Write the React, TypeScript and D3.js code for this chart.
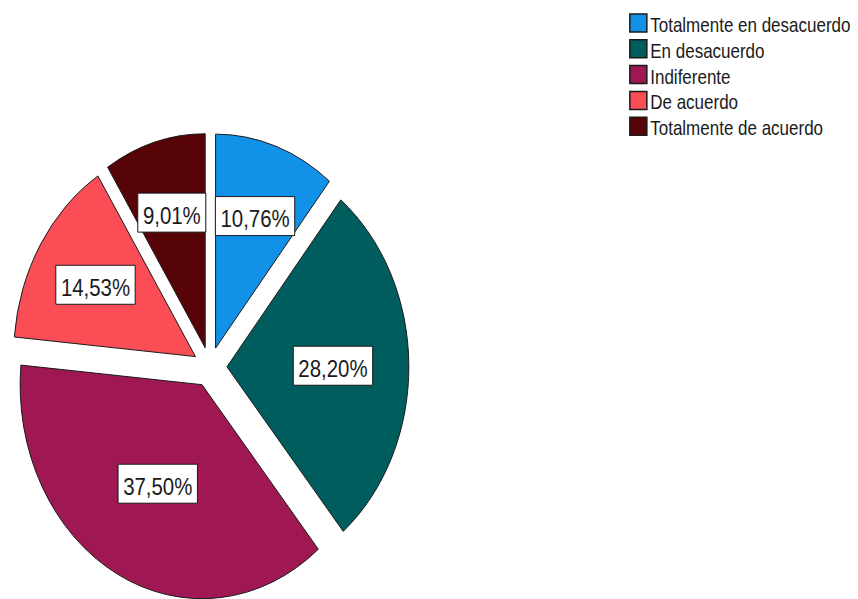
import React, { useEffect, useRef } from "react";
import * as d3 from "d3";

const categories = [
  "Totalmente en desacuerdo",
  "En desacuerdo",
  "Indiferente",
  "De acuerdo",
  "Totalmente de acuerdo",
];
const values = [10.76, 28.2, 37.5, 14.53, 9.01];
const colors = ["#1192e8", "#005d5d", "#9f1853", "#fa4d56", "#570408"];

const W = 858;
const H = 599;
const SX = 0.85;
const CX = 247;
const CY = 367;
const R = 214;
const EXPLODE = 20;
const FONT = "'Liberation Sans', Arial, sans-serif";

export default function App() {
  const ref = useRef<SVGSVGElement | null>(null);

  useEffect(() => {
    const svg = d3.select(ref.current);
    svg.selectAll("*").remove();
    const g = svg.append("g").attr("transform", `scale(${SX},1)`);

    const data = categories.map((c, i) => ({ c, v: values[i], col: colors[i] }));
    const pie = d3.pie<any>().value((d: any) => d.v).sort(null);
    const arcs = pie(data);
    const arc = d3.arc<any>().innerRadius(0).outerRadius(R);
    const fmt = (v: number) => d3.format(".2f")(v).replace(".", ",") + "%";

    const pieG = g.append("g").attr("transform", `translate(${CX},${CY})`);
    arcs.forEach((a) => {
      const mid = (a.startAngle + a.endAngle) / 2;
      const dx = EXPLODE * Math.sin(mid);
      const dy = -EXPLODE * Math.cos(mid);
      const sg = pieG.append("g").attr("transform", `translate(${dx},${dy})`);
      sg.append("path")
        .attr("d", arc(a) as string)
        .attr("fill", a.data.col)
        .attr("stroke", "#1a1a1a")
        .attr("stroke-width", 1)
        .attr("vector-effect", "non-scaling-stroke");
    });

    arcs.forEach((a) => {
      const mid = (a.startAngle + a.endAngle) / 2;
      const alpha = (a.endAngle - a.startAngle) / 2;
      const rc = ((2 / 3) * R * Math.sin(alpha)) / alpha + EXPLODE;
      const lx = rc * Math.sin(mid);
      const ly = -rc * Math.cos(mid);
      const lg = pieG.append("g").attr("transform", `translate(${lx},${ly})`);
      const rect = lg.append("rect");
      const t = lg
        .append("text")
        .attr("text-anchor", "middle")
        .attr("x", 0)
        .attr("y", 11)
        .attr("font-family", FONT)
        .attr("font-size", 24)
        .attr("fill", "#1a1a1a")
        .text(fmt(a.data.v));
      const tw = (t.node() as SVGTextElement).getComputedTextLength();
      const bw = tw + 12;
      const bh = 39;
      rect
        .attr("x", -bw / 2)
        .attr("y", -bh / 2)
        .attr("width", bw)
        .attr("height", bh)
        .attr("fill", "#ffffff")
        .attr("stroke", "#1a1a1a")
        .attr("stroke-width", 1)
        .attr("vector-effect", "non-scaling-stroke");
    });

    const lgX = 741;
    const lgY = 14;
    const step = 25.8;
    const leg = g.append("g");
    data.forEach((d, i) => {
      const y = lgY + i * step;
      leg
        .append("rect")
        .attr("x", lgX)
        .attr("y", y)
        .attr("width", 20)
        .attr("height", 18)
        .attr("fill", d.col)
        .attr("stroke", "#1a1a1a")
        .attr("stroke-width", 1.5)
        .attr("vector-effect", "non-scaling-stroke");
      leg
        .append("text")
        .attr("x", lgX + 24)
        .attr("y", y + 18)
        .attr("font-family", FONT)
        .attr("font-size", 20)
        .attr("fill", "#1a1a1a")
        .text(d.c);
    });
  }, []);

  return (
    <svg
      ref={ref}
      width={W}
      height={H}
      style={{ position: "absolute", left: 0, top: 0, display: "block", background: "#ffffff" }}
    />
  );
}
